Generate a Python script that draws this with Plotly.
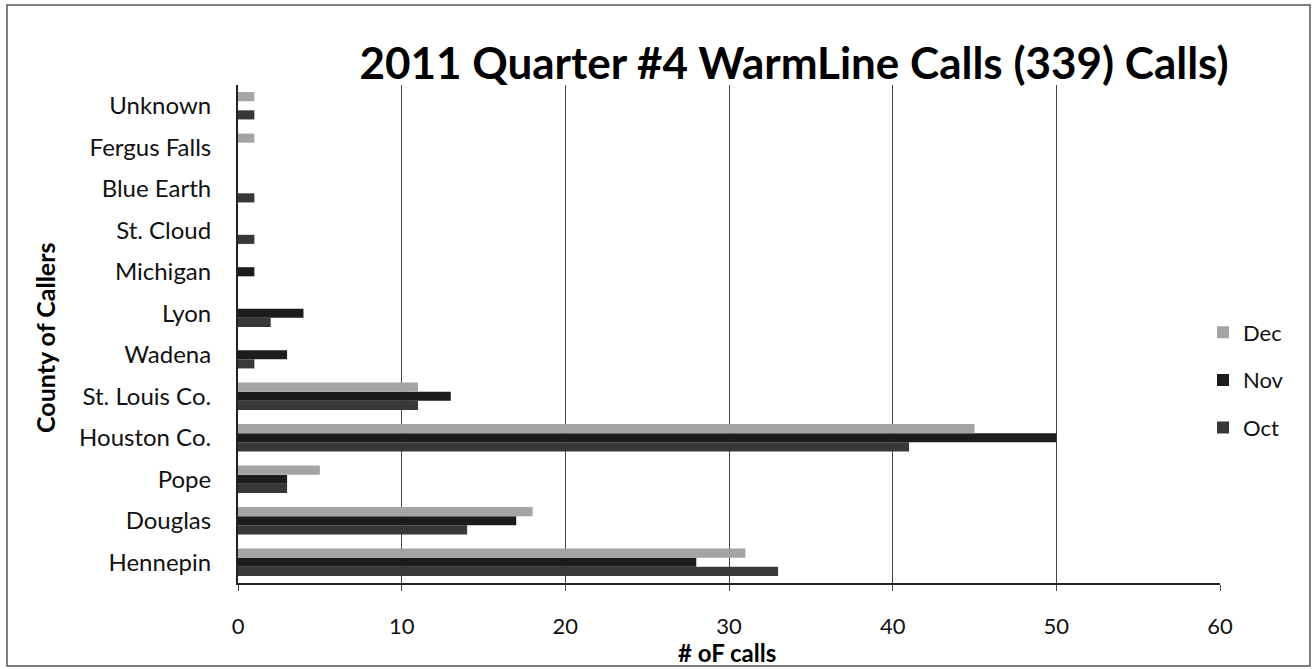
import plotly.graph_objects as go

counties = ["Hennepin", "Douglas", "Pope", "Houston Co.", "St. Louis Co.", "Wadena",
            "Lyon", "Michigan", "St. Cloud", "Blue Earth", "Fergus Falls", "Unknown"]
oct_calls = [33, 14, 3, 41, 11, 1, 2, 0, 1, 1, 0, 1]
nov_calls = [28, 17, 3, 50, 13, 3, 4, 1, 0, 0, 0, 0]
dec_calls = [31, 18, 5, 45, 11, 0, 0, 0, 0, 0, 1, 1]
x_ticks = [0, 10, 20, 30, 40, 50, 60]

W, H = 1316, 669
L, R, T, B = 238, 96, 85, 86
PW, PH = W - L - R, H - T - B

def px(x):
    return (x - L) / PW

def py(y):
    return (H - B - y) / PH

FONT = "Lato, 'Open Sans', sans-serif"

fig = go.Figure()
series = [("Oct", oct_calls, "#383838", 3), ("Nov", nov_calls, "#1c1c1c", 2), ("Dec", dec_calls, "#a4a4a4", 1)]
for name, vals, col, rank in series:
    fig.add_trace(go.Bar(
        y=counties, x=vals, name=name, orientation="h",
        marker=dict(color=col, line=dict(width=0)),
        legendgroup=name, legendrank=rank,
    ))

fig.update_layout(
    width=W, height=H,
    margin=dict(l=L, r=R, t=T, b=B, autoexpand=False),
    paper_bgcolor="white", plot_bgcolor="white",
    barmode="group", bargap=0.34, bargroupgap=0.0,
    font=dict(family=FONT, color="#111111", size=22),
    title=dict(text="<b>2011 Quarter #4 WarmLine Calls (339) Calls)</b>",
               x=794 / W, xanchor="center", y=1 - 64 / H, yanchor="middle",
               font=dict(size=44, color="#000000", family=FONT)),
    legend=dict(x=px(1203), xanchor="left", y=py(380), yanchor="middle",
                traceorder="grouped", tracegroupgap=16,
                font=dict(size=22), itemwidth=30, bgcolor="rgba(0,0,0,0)"),
    showlegend=True,
)
fig.update_xaxes(
    range=[0, 60], tickvals=x_ticks, ticktext=[str(t) for t in x_ticks],
    showgrid=True, gridcolor="#444444", gridwidth=1,
    showline=True, linecolor="#222222", linewidth=1.5,
    ticks="outside", ticklen=6, tickcolor="#444444",
    tickfont=dict(size=22), ticklabelstandoff=17,
    zeroline=False, automargin=False,
)
fig.update_yaxes(
    type="category", categoryorder="array", categoryarray=counties,
    showgrid=False, showline=True, linecolor="#222222", linewidth=2,
    ticks="", tickfont=dict(size=24), ticklabelstandoff=20, automargin=False,
)
fig.add_annotation(text="<b># oF calls</b>", xref="paper", yref="paper",
                   x=px(727), y=py(652), xanchor="center", yanchor="middle",
                   showarrow=False, font=dict(size=24, color="#000000"))
fig.add_annotation(text="<b>County of Callers</b>", xref="paper", yref="paper",
                   x=px(45), y=py(338), xanchor="center", yanchor="middle",
                   textangle=-90, showarrow=False, font=dict(size=25, color="#000000"))
# outer frame of the chart area
fig.add_shape(type="rect", xref="paper", yref="paper",
              x0=px(7), x1=px(1310), y0=py(666), y1=py(5),
              line=dict(color="#555555", width=1.5), fillcolor="rgba(0,0,0,0)")

fig.write_html("out.html", config={"displayModeBar": False},
               post_script="document.body.style.margin='0';")
